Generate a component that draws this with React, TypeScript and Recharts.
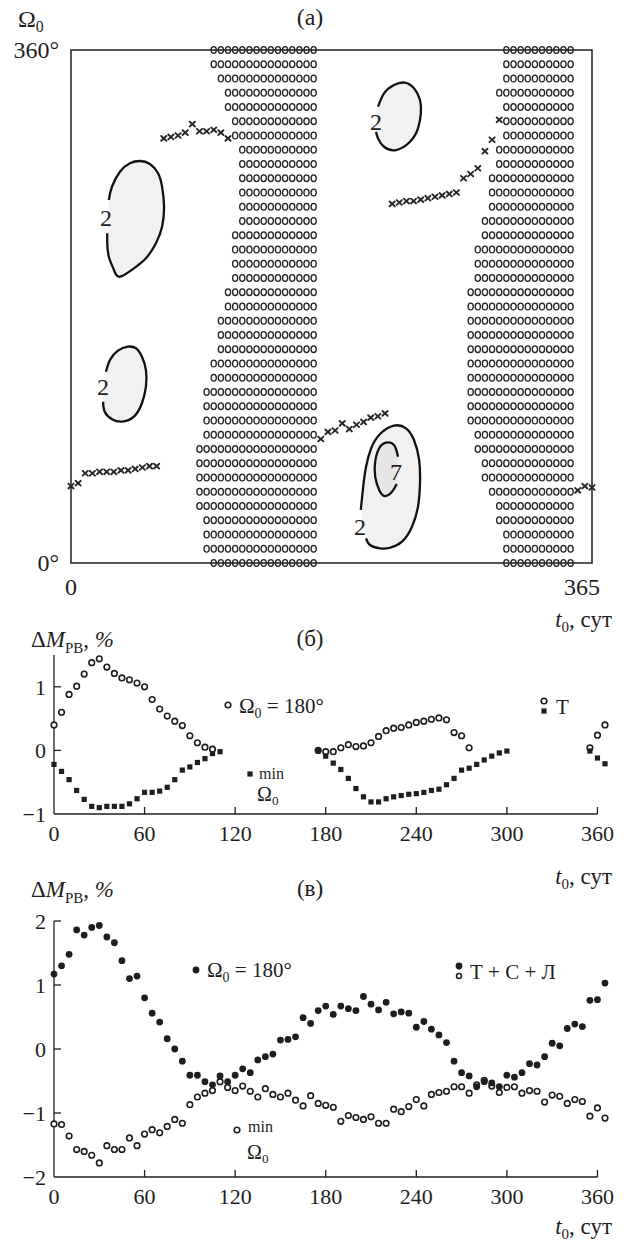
import React from 'react';
import { ScatterChart, Scatter, XAxis, YAxis, ReferenceArea, ReferenceLine } from 'recharts';

const FONT = '"Liberation Serif", "Times New Roman", Times, serif';
const INK = '#1e1e1e';

// ---------------- Panel (а): map over t0 (days) and Ω0 (deg) ----------------
const omegaRows = [360, 350, 340, 330, 320, 310, 300, 290, 280, 270, 260, 250, 240, 230, 220, 210, 200, 190, 180, 170, 160, 150, 140, 130, 120, 110, 100, 90, 80, 70, 60, 50, 40, 30, 20, 10, 0];
const band1Start = [100, 100, 105, 110, 110, 115, 115, 120, 120, 120, 120, 120, 120, 115, 115, 115, 115, 110, 110, 105, 105, 105, 100, 100, 95, 95, 95, 95, 90, 90, 90, 90, 90, 95, 95, 95, 100];
const band1End = 170;
const band2Start = [305, 305, 305, 300, 305, 305, 305, 300, 300, 295, 295, 295, 290, 290, 285, 285, 285, 280, 280, 280, 280, 280, 280, 280, 280, 280, 280, 285, 285, 290, 290, 295, 300, 300, 305, 305, 305];
const band2End = 350;
const gridStep = 5;

const crossT0 = [0, 5, 10, 15, 20, 25, 30, 35, 40, 45, 50, 55, 60,
  65, 70, 75, 80, 85, 90, 95, 100, 105, 110,
  175, 180, 185, 190, 195, 200, 205, 210, 215, 220,
  225, 230, 235, 240, 245, 250, 255, 260, 265, 270, 275, 280, 285, 290, 295, 300,
  355, 360, 365];
const crossOmega = [54, 56, 63, 63, 64, 64, 64, 65, 65, 66, 67, 68, 68,
  298, 299, 300, 302, 308, 303, 303, 304, 302, 298,
  87, 92, 93, 98, 94, 97, 99, 102, 103, 105,
  252, 253, 254, 254, 255, 256, 257, 258, 259, 260, 270, 273, 277, 289, 297, 311,
  51, 54, 53];

const ovalA_t0 = [26.5, 28.7, 34.3, 41.3, 48.3, 55.3, 61.0, 63.8, 65.2, 63.8, 59.5, 52.5, 44.1, 34.3, 30.1, 26.5, 25.4, 25.4];
const ovalA_om = [254.7, 264.1, 274.6, 280.5, 282.1, 280.0, 273.5, 264.1, 250.0, 236.0, 224.4, 213.8, 206.8, 200.9, 205.6, 214.9, 224.4, 231.4];
const ovalB_t0 = [24.5, 27.3, 32.9, 39.9, 45.5, 49.7, 52.5, 52.5, 49.7, 44.1, 35.7, 28.7, 23.6, 22.5];
const ovalB_om = [134.2, 142.5, 149.0, 151.8, 150.7, 144.8, 135.4, 123.7, 112.1, 102.7, 99.2, 100.9, 106.2, 113.2];
const ovalC_t0 = [215.1, 219.3, 226.3, 233.9, 240.3, 244.5, 245.1, 243.1, 237.5, 227.7, 219.3, 215.1, 213.7];
const ovalC_om = [320.2, 329.6, 335.4, 337.1, 333.1, 324.9, 315.6, 305.0, 295.6, 289.8, 292.1, 298.0, 302.7];
const ovalD_t0 = [203.0, 204.7, 206.7, 210.3, 216.5, 226.3, 234.7, 240.3, 243.9, 244.5, 243.1, 238.9, 231.9, 223.5, 216.5, 209.5, 206.7];
const ovalD_om = [37.2, 53.5, 67.6, 80.5, 90.5, 96.4, 94.5, 86.3, 72.3, 55.9, 39.5, 25.5, 15.0, 10.7, 10.3, 12.6, 17.3];
const ovalE_t0 = [229.1, 226.3, 220.7, 215.9, 213.1, 213.1, 215.9, 219.8, 224.9, 228.2];
const ovalE_om = [74.6, 82.8, 84.4, 80.5, 71.1, 60.6, 51.2, 47.0, 50.0, 55.4];

const contourLabelText = ['2', '2', '2', '2', '7'];
const contourLabelT0 = [24.5, 22.4, 213.7, 202.5, 227.7];
const contourLabelOm = [242, 123.7, 309.7, 25.5, 64.1];

// ---------------- Panel (б): ΔM_РВ, %, perturbation Т ----------------
const bCircT0 = [0, 5, 10, 15, 20, 25, 30, 35, 40, 45, 50, 55, 60, 65, 70, 75, 80, 85, 90, 95, 100, 105,
  175, 180, 185, 190, 195, 200, 205, 210, 215, 220, 225, 230, 235, 240, 245, 250, 255, 260, 265, 270, 275,
  355, 360, 365];
const bCircVal = [0.40, 0.60, 0.88, 1.01, 1.20, 1.38, 1.44, 1.31, 1.21, 1.14, 1.11, 1.06, 1.00, 0.80, 0.65, 0.54, 0.46, 0.39, 0.23, 0.12, 0.05, 0.02,
  0.0, -0.02, -0.02, 0.04, 0.09, 0.06, 0.07, 0.12, 0.22, 0.31, 0.35, 0.36, 0.40, 0.44, 0.46, 0.49, 0.51, 0.48, 0.28, 0.23, 0.04,
  0.04, 0.24, 0.40];
const bSqT0 = [0, 5, 10, 15, 20, 25, 30, 35, 40, 45, 50, 55, 60, 65, 70, 75, 80, 85, 90, 95, 100, 105, 110,
  175, 180, 185, 190, 195, 200, 205, 210, 215, 220, 225, 230, 235, 240, 245, 250, 255, 260, 265, 270, 275, 280, 285, 290, 295, 300,
  355, 360, 365];
const bSqVal = [-0.22, -0.33, -0.46, -0.63, -0.77, -0.88, -0.90, -0.88, -0.88, -0.88, -0.84, -0.76, -0.66, -0.66, -0.64, -0.58, -0.46, -0.31, -0.26, -0.19, -0.13, -0.05, -0.02,
  0.0, -0.09, -0.20, -0.30, -0.44, -0.60, -0.73, -0.81, -0.81, -0.76, -0.73, -0.71, -0.69, -0.68, -0.66, -0.63, -0.61, -0.54, -0.44, -0.31, -0.28, -0.22, -0.15, -0.09, -0.04, -0.01,
  -0.01, -0.12, -0.21];

// ---------------- Panel (в): ΔM_РВ, %, perturbations Т + С + Л ----------------
const cT0 = [0, 5, 10, 15, 20, 25, 30, 35, 40, 45, 50, 55, 60, 65, 70, 75, 80, 85, 90, 95, 100, 105, 110, 115, 120, 125, 130, 135, 140, 145,
  150, 155, 160, 165, 170, 175, 180, 185, 190, 195, 200, 205, 210, 215, 220, 225, 230, 235, 240, 245, 250, 255, 260, 265, 270, 275, 280, 285, 290, 295,
  300, 305, 310, 315, 320, 325, 330, 335, 340, 345, 350, 355, 360, 365];
const cFilledVal = [1.17, 1.30, 1.48, 1.86, 1.78, 1.90, 1.93, 1.75, 1.66, 1.38, 1.10, 1.14, 0.80, 0.56, 0.42, 0.16, 0.0, -0.19, -0.41, -0.41, -0.51, -0.56, -0.42, -0.51, -0.41, -0.31, -0.37, -0.17, -0.12, -0.08,
  0.14, 0.15, 0.19, 0.49, 0.40, 0.60, 0.67, 0.54, 0.67, 0.63, 0.60, 0.82, 0.70, 0.61, 0.73, 0.55, 0.58, 0.56, 0.34, 0.43, 0.31, 0.22, 0.10, -0.19, -0.37, -0.42, -0.59, -0.51, -0.53, -0.59,
  -0.41, -0.44, -0.37, -0.23, -0.25, -0.12, 0.09, 0.05, 0.32, 0.39, 0.35, 0.76, 0.77, 1.03];
const cOpenVal = [-1.17, -1.18, -1.36, -1.57, -1.60, -1.66, -1.78, -1.51, -1.57, -1.57, -1.39, -1.51, -1.33, -1.26, -1.31, -1.21, -1.10, -1.16, -0.87, -0.75, -0.69, -0.65, -0.51, -0.60, -0.65, -0.58, -0.66, -0.75, -0.62, -0.71,
  -0.75, -0.69, -0.80, -0.89, -0.73, -0.85, -0.88, -0.91, -1.13, -1.04, -1.07, -1.10, -1.06, -1.16, -1.16, -0.94, -0.98, -0.90, -0.79, -0.89, -0.71, -0.68, -0.66, -0.59, -0.59, -0.69, -0.56, -0.49, -0.58, -0.68,
  -0.60, -0.59, -0.69, -0.65, -0.66, -0.83, -0.72, -0.74, -0.85, -0.79, -0.82, -1.05, -0.92, -1.08];

const xTicksB = [0, 60, 120, 180, 240, 300, 360];
const yTicksB = [-1, 0, 1];
const yTicksC = [-2, -1, 0, 1, 2];

// ---------------- derived tables ----------------
const bandPoints: { t0: number; om: number }[] = [];
omegaRows.forEach((om, i) => {
  for (let t = band1Start[i]; t <= band1End; t += gridStep) bandPoints.push({ t0: t, om });
  for (let t = band2Start[i]; t <= band2End; t += gridStep) bandPoints.push({ t0: t, om });
});
const crosses = crossT0.map((t0, i) => ({ t0, om: crossOmega[i] }));
const zipOval = (ts: number[], os: number[]) => ts.map((t0, i) => ({ t0, om: os[i] }));
const ovals = [
  zipOval(ovalA_t0, ovalA_om),
  zipOval(ovalB_t0, ovalB_om),
  zipOval(ovalC_t0, ovalC_om),
  zipOval(ovalD_t0, ovalD_om),
  zipOval(ovalE_t0, ovalE_om),
];
const contourLabels = contourLabelText.map((label, i) => ({ t0: contourLabelT0[i], om: contourLabelOm[i], label }));
const bCirc = bCircT0.map((t0, i) => ({ t0, v: bCircVal[i] }));
const bSq = bSqT0.map((t0, i) => ({ t0, v: bSqVal[i] }));
const cFilled = cT0.map((t0, i) => ({ t0, v: cFilledVal[i] }));
const cOpen = cT0.map((t0, i) => ({ t0, v: cOpenVal[i] }));

// ---------------- shapes ----------------
const OMark = (p: any) => (
  <ellipse cx={p.cx} cy={p.cy} rx={2.6} ry={3.4} fill="none" stroke="#262626" strokeWidth={1.35} />
);
const XMark = (p: any) => (
  <g stroke="#262626" strokeWidth={1.9} strokeLinecap="round">
    <line x1={p.cx - 2.6} y1={p.cy - 2.4} x2={p.cx + 2.6} y2={p.cy + 2.4} />
    <line x1={p.cx - 2.6} y1={p.cy + 2.4} x2={p.cx + 2.6} y2={p.cy - 2.4} />
  </g>
);
const NoMark = () => <g />;
const ContourLabel = (p: any) => (
  <text x={p.cx} y={p.cy + 8} textAnchor="middle" fontFamily={FONT} fontSize={24} fill={INK}>
    {p.payload && p.payload.label}
  </text>
);
const OpenCircle = (p: any) => (
  <circle cx={p.cx} cy={p.cy} r={2.8} fill="#fff" stroke={INK} strokeWidth={1.6} />
);
const Square = (p: any) => <rect x={p.cx - 2.6} y={p.cy - 2.6} width={5.2} height={5.2} fill={INK} />;
const Dot = (p: any) => <circle cx={p.cx} cy={p.cy} r={3.4} fill={INK} />;

// ---------------- ticks ----------------
const ATickX = (p: any) => {
  const v = p.payload.value;
  return (
    <text x={v === 0 ? p.x : p.x - 10} y={p.y + 32} textAnchor="middle" fontFamily={FONT} fontSize={24} fill={INK}>
      {v}
    </text>
  );
};
const ATickY = (p: any) => (
  <text x={p.x - 12} y={p.y + 8} textAnchor="end" fontFamily={FONT} fontSize={24} fill={INK}>
    {p.payload.value + '\u00b0'}
  </text>
);
const XTick = (p: any) => {
  const v = p.payload.value;
  return (
    <g>
      {v !== 0 && <line x1={p.x} x2={p.x} y1={p.y} y2={p.y - 7} stroke={INK} strokeWidth={1.3} />}
      <text x={p.x} y={p.y + 27} textAnchor="middle" fontFamily={FONT} fontSize={22} fill={INK}>
        {v}
      </text>
    </g>
  );
};
const makeYTick = (bottom: number) => (p: any) => {
  const v = p.payload.value;
  const label = v < 0 ? '\u2212' + Math.abs(v) : String(v);
  return (
    <g>
      {v !== bottom && <line x1={p.x} x2={p.x + 7} y1={p.y} y2={p.y} stroke={INK} strokeWidth={1.3} />}
      <text x={p.x - 8} y={p.y + 8} textAnchor="end" fontFamily={FONT} fontSize={22} fill={INK}>
        {label}
      </text>
    </g>
  );
};

// ---------------- text helpers ----------------
const Omega0 = ({ x, y, size = 22, rest = '' }: any) => (
  <text x={x} y={y} fontFamily={FONT} fontSize={size} fill={INK}>
    <tspan fill={INK}>Ω</tspan>
    <tspan fill={INK} fontSize={size * 0.66} dy={size * 0.22}>0</tspan>
    <tspan fill={INK} dy={-size * 0.22}>{rest}</tspan>
  </text>
);
const DeltaM = ({ x, y }: any) => (
  <text x={x} y={y} fontFamily={FONT} fontSize={23} fill={INK}>
    <tspan>Δ</tspan>
    <tspan fontStyle="italic">M</tspan>
    <tspan fontSize={15} dy={6}>РВ</tspan>
    <tspan dy={-6}>, </tspan>
    <tspan fontStyle="italic">%</tspan>
  </text>
);
const TimeLabel = ({ x, y }: any) => (
  <text x={x} y={y} textAnchor="end" fontFamily={FONT} fontSize={23} fill={INK}>
    <tspan fontStyle="italic">t</tspan>
    <tspan fontSize={15} dy={5}>0</tspan>
    <tspan dy={-5}>, сут</tspan>
  </text>
);

export default function App() {
  return (
    <div style={{ position: 'absolute', left: 0, top: 0, width: 629, height: 1243, background: '#fff', overflow: 'hidden' }}>
      {/* Panel (а) */}
      <div style={{ position: 'absolute', left: 0, top: 0 }}>
        <ScatterChart width={629} height={640} margin={{ top: 50, right: 37, bottom: 0, left: 0 }}>
          <XAxis type="number" dataKey="t0" domain={[0, 365]} ticks={[0, 365]} interval={0} height={77}
            axisLine={false} tickLine={false} tickSize={0} tickMargin={0} tick={ATickX} />
          <YAxis type="number" dataKey="om" domain={[0, 360]} ticks={[0, 360]} interval={0} width={71}
            axisLine={false} tickLine={false} tickSize={0} tickMargin={0} tick={ATickY} />
          {ovals.map((d, i) => (
            <Scatter key={'oval' + i} data={d} shape={NoMark} line={{ stroke: '#111', strokeWidth: 2.3, fill: i === 4 ? '#e6e6e6' : '#f1f1f1' }}
              lineType="joint" lineJointType="natural" isAnimationActive={false} />
          ))}
          <Scatter data={bandPoints} shape={OMark} isAnimationActive={false} />
          <Scatter data={crosses} shape={XMark} isAnimationActive={false} />
          <Scatter data={contourLabels} shape={ContourLabel} isAnimationActive={false} />
          <ReferenceArea x1={0} x2={365} y1={0} y2={360} fill="none" stroke={INK} strokeWidth={1.5} ifOverflow="visible" />
        </ScatterChart>
      </div>

      {/* Panel (б) */}
      <div style={{ position: 'absolute', left: 0, top: 580 }}>
        <ScatterChart width={629} height={320} margin={{ top: 75, right: 24, bottom: 0, left: 0 }}>
          <XAxis type="number" dataKey="t0" domain={[0, 365]} ticks={xTicksB} interval={0} height={86}
            axisLine={false} tickLine={false} tickSize={0} tickMargin={0} tick={XTick} />
          <YAxis type="number" dataKey="v" domain={[-1, 1.5]} ticks={yTicksB} interval={0} width={54}
            axisLine={{ stroke: INK, strokeWidth: 1.3 }} tickLine={false} tickSize={0} tickMargin={0} tick={makeYTick(-1)} />
          <ReferenceLine segment={[{ x: 0, y: -1 }, { x: 360, y: -1 }]} stroke={INK} strokeWidth={1.3} />
          <Scatter data={bCirc} shape={OpenCircle} isAnimationActive={false} />
          <Scatter data={bSq} shape={Square} isAnimationActive={false} />
        </ScatterChart>
      </div>

      {/* Panel (в) */}
      <div style={{ position: 'absolute', left: 0, top: 860 }}>
        <ScatterChart width={629} height={383} margin={{ top: 61, right: 24, bottom: 0, left: 0 }}>
          <XAxis type="number" dataKey="t0" domain={[0, 365]} ticks={xTicksB} interval={0} height={66}
            axisLine={false} tickLine={false} tickSize={0} tickMargin={0} tick={XTick} />
          <YAxis type="number" dataKey="v" domain={[-2, 2]} ticks={yTicksC} interval={0} width={54}
            axisLine={{ stroke: INK, strokeWidth: 1.3 }} tickLine={false} tickSize={0} tickMargin={0} tick={makeYTick(-2)} />
          <ReferenceLine segment={[{ x: 0, y: -2 }, { x: 360, y: -2 }]} stroke={INK} strokeWidth={1.3} />
          <Scatter data={cOpen} shape={OpenCircle} isAnimationActive={false} />
          <Scatter data={cFilled} shape={Dot} isAnimationActive={false} />
        </ScatterChart>
      </div>

      {/* titles and annotations */}
      <svg width={629} height={1243} style={{ position: 'absolute', left: 0, top: 0, pointerEvents: 'none' }}>
        {/* (а) */}
        <Omega0 x={18} y={27} size={24} />
        <text x={310} y={25} textAnchor="middle" fontFamily={FONT} fontSize={24} fill={INK}>(а)</text>
        <TimeLabel x={612} y={627} />
        {/* (б) */}
        <DeltaM x={31} y={647} />
        <text x={310} y={646} textAnchor="middle" fontFamily={FONT} fontSize={23} fill={INK}>(б)</text>
        <TimeLabel x={612} y={884} />
        <circle cx={228} cy={705} r={2.8} fill="#fff" stroke={INK} strokeWidth={1.6} />
        <Omega0 x={239} y={713} size={21} rest=" = 180°" />
        <rect x={247.4} y={771.4} width={5.2} height={5.2} fill={INK} />
        <text x={259} y={779} fontFamily={FONT} fontSize={16} fill={INK}>min</text>
        <Omega0 x={257} y={801} size={20} />
        <circle cx={544} cy={701} r={2.8} fill="#fff" stroke={INK} strokeWidth={1.6} />
        <rect x={541.4} y={708.4} width={5.2} height={5.2} fill={INK} />
        <text x={556} y={714} fontFamily={FONT} fontSize={21} fill={INK}>Т</text>
        {/* (в) */}
        <DeltaM x={31} y={897} />
        <text x={310} y={896} textAnchor="middle" fontFamily={FONT} fontSize={23} fill={INK}>(в)</text>
        <TimeLabel x={612} y={1234} />
        <circle cx={196} cy={970} r={3.4} fill={INK} />
        <Omega0 x={207} y={977} size={21} rest=" = 180°" />
        <circle cx={459} cy={966} r={3.4} fill={INK} />
        <circle cx={459} cy={976} r={2.5} fill="#fff" stroke={INK} strokeWidth={1.5} />
        <text x={470} y={979} fontFamily={FONT} fontSize={21} fill={INK}>Т + С + Л</text>
        <circle cx={237} cy={1130} r={2.8} fill="#fff" stroke={INK} strokeWidth={1.6} />
        <text x={248} y={1132} fontFamily={FONT} fontSize={16} fill={INK}>min</text>
        <Omega0 x={247} y={1159} size={20} />
      </svg>
    </div>
  );
}
